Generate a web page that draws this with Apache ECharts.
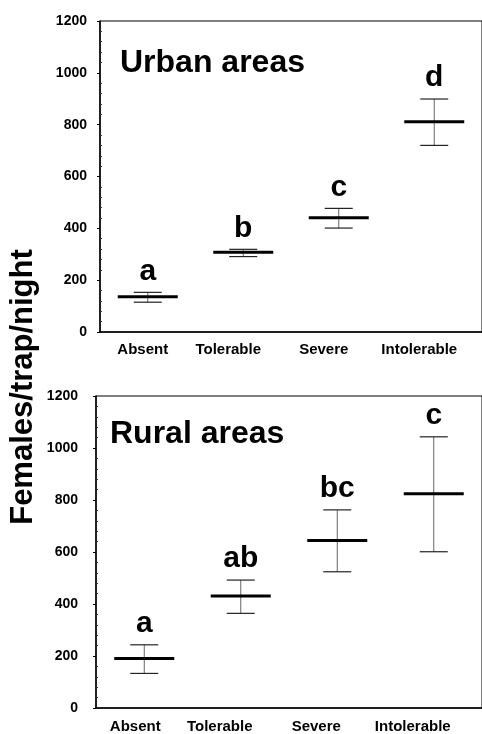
<!DOCTYPE html>
<html>
<head>
<meta charset="utf-8">
<script src="https://cdn.jsdelivr.net/npm/echarts@6/dist/echarts.min.js"></script>
<style>
  html, body { margin: 0; padding: 0; background: #fff; }
  #chart { width: 482px; height: 734px; }
</style>
</head>
<body>
<div id="chart"></div>
<script>
  const categories = ['Absent', 'Tolerable', 'Severe', 'Intolerable']
  const yTicks = [0, 200, 400, 600, 800, 1000, 1200]

  // urban areas
  const urbanMean = [136, 308, 441, 811]
  const urbanLow = [115, 291, 401, 720]
  const urbanHigh = [153, 319, 477, 899]
  const urbanLetters = ['a', 'b', 'c', 'd']

  // rural areas
  const ruralMean = [190, 431, 644, 824]
  const ruralLow = [133, 364, 524, 601]
  const ruralHigh = [243, 492, 762, 1043]
  const ruralLetters = ['a', 'ab', 'bc', 'c']

  const FONT = '"Liberation Sans", Arial, sans-serif'

  function rows (mean, low, high) {
    return categories.map((c, i) => [i, mean[i], low[i], high[i]])
  }

  function errorBars (letters) {
    return function (params, api) {
      const i = api.value(0)
      const m = api.coord([i, api.value(1)])
      const lo = api.coord([i, api.value(2)])
      const hi = api.coord([i, api.value(3)])
      const x = m[0]
      return {
        type: 'group',
        children: [
          { type: 'line', shape: { x1: x, y1: hi[1], x2: x, y2: lo[1] },
            style: { stroke: '#666', lineWidth: 1 } },
          { type: 'line', shape: { x1: x - 14, y1: hi[1], x2: x + 14, y2: hi[1] },
            style: { stroke: '#222', lineWidth: 1.2 } },
          { type: 'line', shape: { x1: x - 14, y1: lo[1], x2: x + 14, y2: lo[1] },
            style: { stroke: '#222', lineWidth: 1.2 } },
          { type: 'line', shape: { x1: x - 30, y1: m[1], x2: x + 30, y2: m[1] },
            style: { stroke: '#000', lineWidth: 3 } },
          { type: 'text', x: x, y: hi[1] - 21,
            style: { text: letters[i], font: 'bold 30px ' + FONT, fill: '#000',
              align: 'center', verticalAlign: 'middle' } }
        ]
      }
    }
  }

  function xAxisFor (gridIndex, firstPad, pad, margin) {
    return {
      type: 'category',
      gridIndex: gridIndex,
      data: categories,
      axisLine: { lineStyle: { color: '#000', width: 1.5 } },
      axisTick: { show: false },
      axisLabel: {
        interval: 0,
        margin: margin,
        formatter: (v, i) => '{s' + (i === 0 ? 0 : 1) + '|' + v + '}',
        rich: {
          s0: { padding: [0, firstPad, 0, 0], fontFamily: FONT, fontWeight: 'bold', fontSize: 15, color: '#000' },
          s1: { padding: [0, pad, 0, 0], fontFamily: FONT, fontWeight: 'bold', fontSize: 15, color: '#000' }
        }
      }
    }
  }

  function yAxisFor (gridIndex, margin) {
    return {
      type: 'value',
      gridIndex: gridIndex,
      min: yTicks[0],
      max: yTicks[yTicks.length - 1],
      interval: yTicks[1] - yTicks[0],
      axisLine: { show: true, lineStyle: { color: '#000', width: 1.5 } },
      axisTick: { show: true, length: 3, lineStyle: { color: '#000' } },
      minorTick: { show: true, splitNumber: 5, length: -2, lineStyle: { color: '#333' } },
      splitLine: { show: false },
      axisLabel: { margin: margin, formatter: v => String(v),
        fontFamily: FONT, fontWeight: 'bold', fontSize: 14, color: '#000' }
    }
  }

  const chart = echarts.init(document.getElementById('chart'))
  chart.setOption({
    animation: false,
    backgroundColor: '#fff',
    grid: [
      { left: 100, top: 21, width: 388, height: 311, show: true, borderColor: '#000', borderWidth: 1 },
      { left: 96, top: 396, width: 392, height: 313, show: true, borderColor: '#000', borderWidth: 1 }
    ],
    xAxis: [xAxisFor(0, 10, 30, 10), xAxisFor(1, 18, 42, 11)],
    yAxis: [yAxisFor(0, 13), yAxisFor(1, 18)],
    graphic: [
      { type: 'text', left: 120, top: 47,
        style: { text: 'Urban areas', font: 'bold 32px ' + FONT, fill: '#000' } },
      { type: 'text', left: 110, top: 418,
        style: { text: 'Rural areas', font: 'bold 32px ' + FONT, fill: '#000' } },
      { type: 'text', x: 23, y: 387, rotation: Math.PI / 2,
        style: { text: 'Females/trap/night', font: 'bold 31px ' + FONT, fill: '#000',
          align: 'center', verticalAlign: 'middle' } }
    ],
    series: [
      { type: 'custom', xAxisIndex: 0, yAxisIndex: 0, renderItem: errorBars(urbanLetters),
        data: rows(urbanMean, urbanLow, urbanHigh), clip: false },
      { type: 'custom', xAxisIndex: 1, yAxisIndex: 1, renderItem: errorBars(ruralLetters),
        data: rows(ruralMean, ruralLow, ruralHigh), clip: false }
    ]
  })
</script>
</body>
</html>
